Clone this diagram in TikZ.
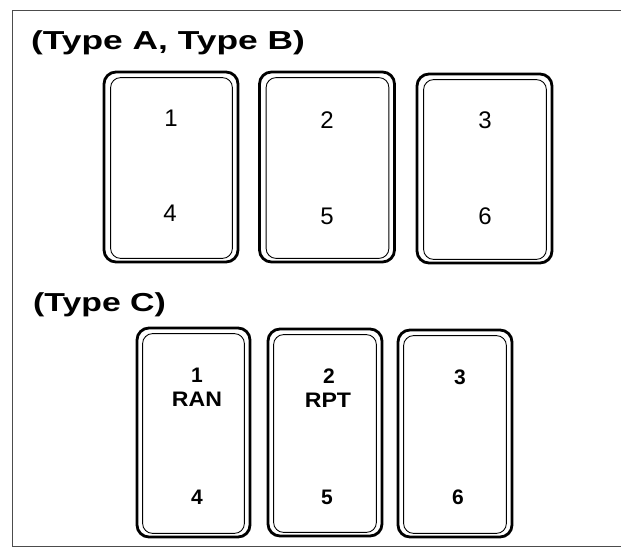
\documentclass[tikz,border=0pt]{standalone}
\usepackage{fontspec}
\setmainfont{Liberation Sans}
\usepackage{graphicx}
\tikzset{
  keyouter/.style={draw=black, line width=2.8pt, rounded corners=12pt, rectangle, inner sep=0pt},
  keyinner/.style={draw=black, line width=0.9pt, rounded corners=10pt},
  digit/.style={font=\fontsize{24}{24}\selectfont, inner sep=0pt},
  bdigit/.style={font=\bfseries\fontsize{21}{21}\selectfont, inner sep=0pt},
  heading/.style={font=\bfseries\fontsize{26}{26}\selectfont, inner sep=0pt, anchor=base west},
  frameline/.style={draw=black!70, line width=0.8pt}
}
\begin{document}
\begin{tikzpicture}[x=1pt,y=-1pt]
\useasboundingbox (0,0) rectangle (621,556);
% frame
\coordinate (ftr) at (621,10);
\coordinate (ftl) at (12,10);
\coordinate (fbl) at (12,546);
\coordinate (fbr) at (621,546);
\draw[frameline] (ftr) -- (ftl) -- (fbl) -- (fbr);
% headings
\node[heading] (hab) at (31,50) {\scalebox{1.36}[1]{(Type A, Type B)}};
\node[heading] (hc) at (33,311) {\scalebox{1.3}[1]{(Type C)}};
% top row keys
\node[keyouter, minimum width=134pt, minimum height=190pt] (ka) at (171,167) {};
\node[keyouter, minimum width=135pt, minimum height=190pt] (kb) at (327,167) {};
\node[keyouter, minimum width=135pt, minimum height=189pt] (kc) at (484.5,168.5) {};
\foreach \k in {ka,kb,kc}{
  \draw[keyinner] ([xshift=8pt,yshift=-7pt]\k.north west) rectangle ([xshift=-7pt,yshift=5pt]\k.south east);
}
\node[digit] (d1) at (171,118) {1};
\node[digit] (d4) at (170,213) {4};
\node[digit] (d2) at (327,120) {2};
\node[digit] (d5) at (327,216) {5};
\node[digit] (d3) at (485,120) {3};
\node[digit] (d6) at (485,216) {6};
% bottom row keys
\node[keyouter, minimum width=113pt, minimum height=209pt] (kd) at (193.5,432.5) {};
\node[keyouter, minimum width=114pt, minimum height=207pt] (ke) at (325,432.5) {};
\node[keyouter, minimum width=114pt, minimum height=207pt] (kf) at (455,433.5) {};
\foreach \k in {kd,ke,kf}{
  \draw[keyinner] ([xshift=7pt,yshift=-7pt]\k.north west) rectangle ([xshift=-7pt,yshift=5pt]\k.south east);
}
\node[bdigit] (e1) at (197,375) {1};
\node[bdigit] (ran) at (197,399) {\scalebox{1.1}[1]{RAN}};
\node[bdigit] (e4) at (197,497) {4};
\node[bdigit] (e2) at (329,376) {2};
\node[bdigit] (rpt) at (328,400) {\scalebox{1.1}[1]{RPT}};
\node[bdigit] (e5) at (327,497) {5};
\node[bdigit] (e3) at (460,377) {3};
\node[bdigit] (e6) at (458,497) {6};
\end{tikzpicture}
\end{document}
